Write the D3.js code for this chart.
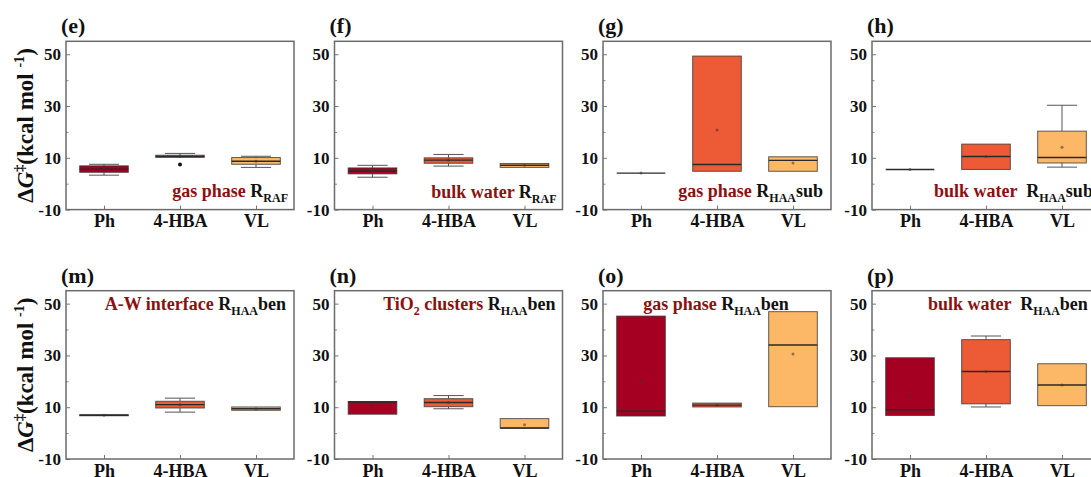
<!DOCTYPE html>
<html><head><meta charset="utf-8">
<script src="https://cdn.jsdelivr.net/npm/d3@7"></script>
</head><body style="margin:0;background:#fff">
<svg id="c" width="1091" height="477" style="display:block"></svg>
<script>
// ---------- data ----------
const categories = ["Ph", "4-HBA", "VL"];
const yTicks = [-10, 10, 30, 50];
const yMinorTicks = [0, 20, 40];
const yDomain = [-10, 55];
const panelLabels = ["(e)", "(f)", "(g)", "(h)", "(m)", "(n)", "(o)", "(p)"];

// segments: [text, kind]  kind: r = red, rs = red subscript, k = black, ks = black subscript
const annotations = [
  [["gas phase ", "r"], ["R", "k"], ["RAF", "ks"]],
  [["bulk water ", "r"], ["R", "k"], ["RAF", "ks"]],
  [["gas phase ", "r"], ["R", "k"], ["HAA", "ks"], ["sub", "k"]],
  [["bulk water  ", "r"], ["R", "k"], ["HAA", "ks"], ["sub", "k"]],
  [["A-W interface ", "r"], ["R", "k"], ["HAA", "ks"], ["ben", "k"]],
  [["TiO", "r"], ["2", "rs"], [" clusters ", "r"], ["R", "k"], ["HAA", "ks"], ["ben", "k"]],
  [["gas phase ", "r"], ["R", "k"], ["HAA", "ks"], ["ben", "k"]],
  [["bulk water  ", "r"], ["R", "k"], ["HAA", "ks"], ["ben", "k"]]
];

// per panel (e,f,g,h,m,n,o,p), per category (Ph, 4-HBA, VL)
const whiskerLow = [
  [3.3, 10.2, 6.3],
  [2.5, 6.8, 6.3],
  [4.1, 4.8, 4.8],
  [5.5, 5.5, 6.4],
  [6.7, 8.1, 8.8],
  [7.3, 9.4, 1.9],
  [6.6, 10.1, 10.2],
  [6.8, 10.1, 10.6]
];
const q1 = [
  [4.4, 10.2, 7.5],
  [3.8, 7.9, 6.3],
  [4.1, 4.8, 4.8],
  [5.5, 5.5, 8.0],
  [6.7, 9.7, 8.8],
  [7.3, 10.2, 1.9],
  [6.6, 10.1, 10.2],
  [6.8, 11.3, 10.6]
];
const median = [
  [5.6, 10.5, 8.7],
  [4.9, 9.1, 7.1],
  [4.1, 7.4, 9.0],
  [5.5, 10.5, 10.1],
  [6.9, 11.0, 9.4],
  [12.0, 11.8, 2.0],
  [8.5, 10.8, 34.0],
  [9.0, 23.8, 18.6]
];
const q3 = [
  [6.9, 11.0, 10.1],
  [6.1, 10.0, 7.8],
  [4.1, 49.3, 10.4],
  [5.5, 15.3, 20.3],
  [7.1, 12.3, 10.1],
  [12.2, 13.3, 5.6],
  [45.2, 11.6, 46.9],
  [29.1, 36.1, 26.8]
];
const whiskerHigh = [
  [7.5, 11.7, 10.6],
  [7.1, 11.3, 7.8],
  [4.1, 49.3, 10.4],
  [5.5, 15.3, 30.3],
  [7.1, 13.5, 10.1],
  [12.2, 14.5, 5.6],
  [45.2, 11.6, 46.9],
  [29.1, 37.5, 26.8]
];
const mean = [
  [5.6, 10.5, 8.7],
  [4.9, 9.1, 7.1],
  [4.1, 20.7, 8.0],
  [5.5, 10.5, 14.1],
  [6.9, 11.0, 9.4],
  [10.6, 11.8, 3.2],
  [20.3, 10.8, 30.6],
  [15.0, 23.8, 18.6]
];
const outliers = [
  [[], [7.4], []], [[], [], []], [[], [], []], [[], [], []],
  [[], [], []], [[], [], []], [[], [], []], [[], [], []]
];

// ---------- layout / style ----------
const FONT = '"Liberation Serif", "Times New Roman", serif';
const colors = ["#a50021", "#ec5a36", "#fdb867"];
const panelLeft = [66, 334.5, 603, 872];
const panelW = 228;
const rowTop = [41.3, 290.7];
const panelH = 168.3;
const annotPos = [
  {anchor: "end", dx: 222, y: 197},
  {anchor: "end", dx: 222, y: 198},
  {anchor: "end", dx: 220, y: 197},
  {anchor: "start", dx: 62, y: 197},
  {anchor: "end", dx: 220, y: 310},
  {anchor: "end", dx: 221, y: 310},
  {anchor: "middle", dx: 113, y: 310},
  {anchor: "start", dx: 56, y: 310}
];

const svg = d3.select("#c");
function serif(sel) {
  return sel.attr("font-family", FONT).style("font-family", FONT).style("font-weight", "bold");
}

panelLabels.forEach((lab, i) => {
  const row = Math.floor(i / 4), col = i % 4;
  const left = panelLeft[col], top = rowTop[row];
  const bottom = top + panelH, right = left + panelW;
  const g = svg.append("g");

  const x = d3.scalePoint().domain(categories).range([left, right]).padding(0.5);
  const y = d3.scaleLinear().domain(yDomain).range([bottom, top]);
  const bw = x.step() * 0.64;
  const cw = bw * 0.62;

  // axes
  const ya = g.append("g").attr("transform", `translate(${left},0)`)
    .call(d3.axisLeft(y).tickValues(yTicks).tickSize(-4).tickPadding(5).tickFormat(d => String(d)));
  ya.attr("font-family", FONT);
  ya.select(".domain").remove();
  ya.selectAll("line").attr("stroke", "#777");
  serif(ya.selectAll("text")).attr("font-size", 17).attr("fill", "#111");

  const ym = g.append("g").attr("transform", `translate(${left},0)`)
    .call(d3.axisLeft(y).tickValues(yMinorTicks).tickSize(-2.5).tickFormat(""));
  ym.select(".domain").remove();
  ym.selectAll("line").attr("stroke", "#888");

  const xa = g.append("g").attr("transform", `translate(0,${bottom})`)
    .call(d3.axisBottom(x).tickSize(-4).tickPadding(5));
  xa.attr("font-family", FONT);
  xa.select(".domain").remove();
  xa.selectAll("line").attr("stroke", "#777");
  serif(xa.selectAll("text")).attr("font-size", 18).attr("fill", "#111");

  // frame
  g.append("rect").attr("x", left).attr("y", top).attr("width", panelW).attr("height", panelH)
    .attr("fill", "none").attr("stroke", "#6b6b6b").attr("stroke-width", 1.5);

  // boxes
  categories.forEach((c, j) => {
    const cx = x(c);
    const lo = whiskerLow[i][j], a = q1[i][j], m = median[i][j], b = q3[i][j], hi = whiskerHigh[i][j];
    const wg = g.append("g").attr("stroke", "#555").attr("stroke-width", 1);
    if (hi > b) {
      wg.append("line").attr("x1", cx).attr("x2", cx).attr("y1", y(b)).attr("y2", y(hi));
      wg.append("line").attr("x1", cx - cw / 2).attr("x2", cx + cw / 2).attr("y1", y(hi)).attr("y2", y(hi));
    }
    if (lo < a) {
      wg.append("line").attr("x1", cx).attr("x2", cx).attr("y1", y(a)).attr("y2", y(lo));
      wg.append("line").attr("x1", cx - cw / 2).attr("x2", cx + cw / 2).attr("y1", y(lo)).attr("y2", y(lo));
    }
    g.append("rect").attr("x", cx - bw / 2).attr("y", y(b)).attr("width", bw)
      .attr("height", Math.max(0, y(a) - y(b)))
      .attr("fill", colors[j]).attr("stroke", "#3a3a3a").attr("stroke-opacity", 0.8).attr("stroke-width", 1);
    g.append("line").attr("x1", cx - bw / 2).attr("x2", cx + bw / 2).attr("y1", y(m)).attr("y2", y(m))
      .attr("stroke", "#2a2a2a").attr("stroke-width", 1.4);
    g.append("circle").attr("cx", cx).attr("cy", y(mean[i][j])).attr("r", 1.5)
      .attr("fill", "#333").attr("fill-opacity", 0.55);
    outliers[i][j].forEach(v => {
      g.append("circle").attr("cx", cx).attr("cy", y(v)).attr("r", 2).attr("fill", "#111");
    });
  });

  // panel label
  serif(g.append("text")).attr("x", left - 5).attr("y", top - 8).attr("font-size", 22).attr("fill", "#111").text(lab);

  // annotation
  const ap = annotPos[i];
  const t = serif(g.append("text")).attr("x", left + ap.dx).attr("y", ap.y)
    .attr("text-anchor", ap.anchor).attr("font-size", 18).style("white-space", "pre");
  let shifted = false;
  annotations[i].forEach(([txt, kind]) => {
    const sub = kind.endsWith("s");
    const ts = t.append("tspan").text(txt)
      .attr("fill", kind.startsWith("r") ? "#8b1010" : "#111")
      .attr("font-size", sub ? 12 : 18);
    if (sub && !shifted) { ts.attr("dy", 5); shifted = true; }
    else if (!sub && shifted) { ts.attr("dy", -5); shifted = false; }
  });

  // y title for first column
  if (col === 0) {
    const cyT = (top + bottom) / 2;
    const yt = serif(g.append("text")).attr("transform", `translate(33,${cyT}) rotate(-90)`)
      .attr("text-anchor", "middle").attr("font-size", 23).attr("fill", "#111").style("white-space", "pre");
    yt.append("tspan").text("Δ");
    yt.append("tspan").text("G").style("font-style", "italic");
    yt.append("tspan").text("‡").attr("font-size", 14).attr("dy", -9);
    yt.append("tspan").text("(kcal mol ").attr("dy", 9);
    yt.append("tspan").text("-1").attr("font-size", 14).attr("dy", -9);
    yt.append("tspan").text(")").attr("dy", 9);
  }
});
</script>
</body></html>
